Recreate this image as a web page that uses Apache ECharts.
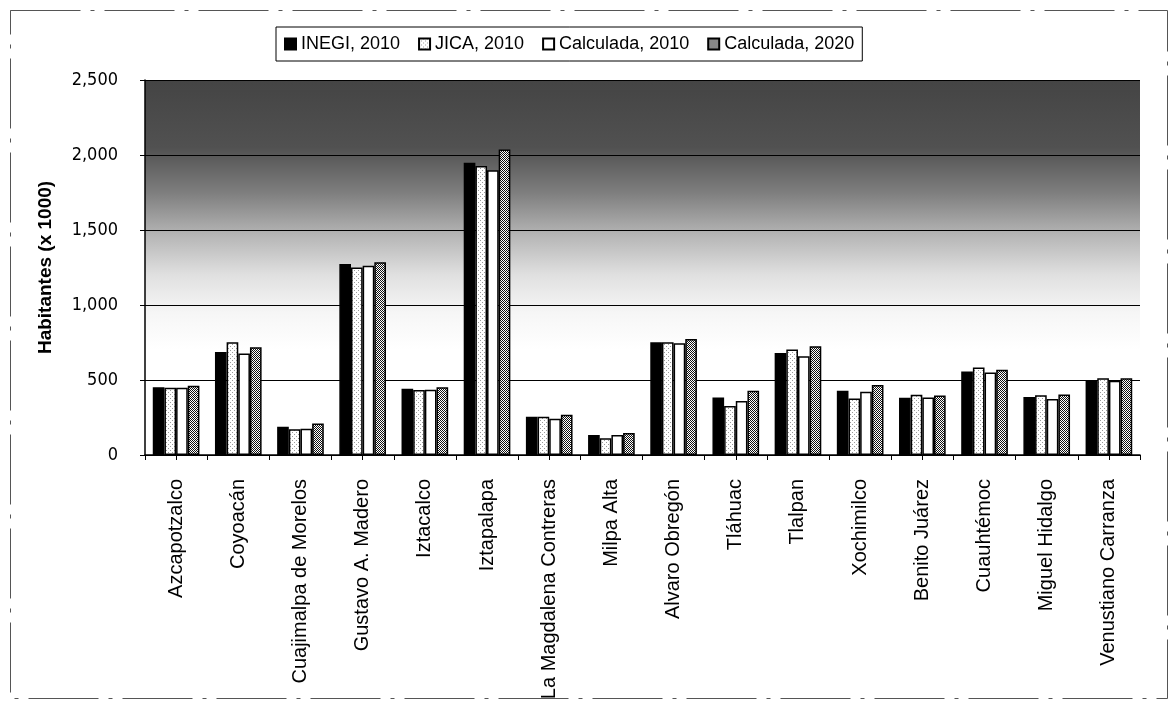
<!DOCTYPE html>
<html>
<head>
<meta charset="utf-8">
<script src="https://cdn.jsdelivr.net/npm/echarts@6/dist/echarts.min.js"></script>
<style>
  html, body { margin: 0; padding: 0; background: #fff; }
  #chart { width: 1174px; height: 705px; }
</style>
</head>
<body>
<div id="chart"></div>
<script>
// Población por alcaldía (miles de habitantes)
const categories = [
  'Azcapotzalco', 'Coyoacán', 'Cuajimalpa de Morelos', 'Gustavo A. Madero',
  'Iztacalco', 'Iztapalapa', 'La Magdalena Contreras', 'Milpa Alta',
  'Alvaro Obregón', 'Tláhuac', 'Tlalpan', 'Xochimilco', 'Benito Juárez',
  'Cuauhtémoc', 'Miguel Hidalgo', 'Venustiano Carranza'
];
const seriesNames = ['INEGI, 2010', 'JICA, 2010', 'Calculada, 2010', 'Calculada, 2020'];
const inegi2010 = [452, 686, 189, 1274, 441, 1948, 255, 134, 751, 383, 680, 428, 381, 556, 387, 500];
const jica2010  = [449, 752, 171, 1250, 434, 1926, 255, 112, 752, 327, 703, 376, 401, 583, 399, 511];
const calc2010  = [449, 676, 175, 1261, 435, 1899, 241, 134, 745, 360, 658, 421, 383, 550, 374, 495];
const calc2020  = [462, 719, 210, 1285, 452, 2036, 268, 147, 773, 428, 725, 466, 396, 568, 403, 511];
const yTicks = [0, 500, 1000, 1500, 2000, 2500];

// Stipple fills for the patterned bars
function dotPattern(size, dots, ink) {
  const c = document.createElement('canvas');
  c.width = size; c.height = size;
  const g = c.getContext('2d');
  g.fillStyle = '#fff';
  g.fillRect(0, 0, size, size);
  g.fillStyle = ink;
  dots.forEach(([x, y]) => g.fillRect(x, y, 1, 1));
  return { image: c, repeat: 'repeat' };
}
const lightDots = dotPattern(4, [[0, 0], [2, 2]], '#9a9a9a');
const denseDots = dotPattern(2, [[0, 0], [1, 1]], '#111111');

const fills = ['#000000', lightDots, '#ffffff', denseDots];
const values = [inegi2010, jica2010, calc2010, calc2020];

const chart = echarts.init(document.getElementById('chart'), null, { renderer: 'canvas' });

// Plot area shading: dark at the top fading to white near 1,000
const plotBackground = new echarts.graphic.LinearGradient(0, 0, 0, 1, [
  { offset: 0.00, color: '#444444' },
  { offset: 0.18, color: '#515151' },
  { offset: 0.30, color: '#7e7e7e' },
  { offset: 0.42, color: '#b8b8b8' },
  { offset: 0.52, color: '#e0e0e0' },
  { offset: 0.62, color: '#f6f6f6' },
  { offset: 0.72, color: '#ffffff' },
  { offset: 1.00, color: '#ffffff' }
]);

const option = {
  animation: false,
  backgroundColor: '#ffffff',
  textStyle: { fontFamily: "'Liberation Sans', Arial, sans-serif", color: '#000' },
  graphic: [{
    type: 'rect',
    left: 8, top: 8,
    shape: { width: 1157, height: 688 },
    style: { fill: 'none', stroke: '#555', lineWidth: 1, lineDash: [70, 10, 4, 10] },
    silent: true,
    z: -1
  }],
  legend: {
    data: seriesNames,
    left: 276, top: 27,
    itemWidth: 11, itemHeight: 11,
    itemGap: 18,
    padding: [8, 8],
    borderColor: '#000', borderWidth: 1,
    backgroundColor: '#fff',
    icon: 'rect',
    textStyle: { fontSize: 18, color: '#000' }
  },
  grid: {
    left: 145, right: 34, top: 80, bottom: 250,
    show: true,
    borderWidth: 0,
    backgroundColor: plotBackground
  },
  xAxis: [{
    type: 'category',
    data: categories,
    axisLine: { lineStyle: { color: '#000', width: 1.5 } },
    axisTick: { show: true, length: 5, lineStyle: { color: '#000' } },
    axisLabel: {
      rotate: 90, margin: 24, interval: 0,
      fontSize: 20, color: '#000',
      fontFamily: "'Liberation Sans', Arial, sans-serif"
    }
  }, {
    type: 'category',
    data: categories,
    position: 'bottom',
    axisLine: { show: false },
    axisTick: { show: true, alignWithLabel: true, length: 5, lineStyle: { color: '#000' } },
    axisLabel: { show: false }
  }],
  yAxis: {
    type: 'value',
    min: 0, max: 2500, interval: 500,
    name: 'Habitantes (x 1000)',
    nameLocation: 'middle',
    nameRotate: 90,
    nameGap: 90,
    nameTextStyle: { fontSize: 19, fontWeight: 'bold', color: '#000' },
    axisLine: { show: true, lineStyle: { color: '#000', width: 1.5 } },
    axisTick: { show: true, length: 5, lineStyle: { color: '#000' } },
    axisLabel: {
      margin: 27, fontSize: 18, color: '#000',
      fontFamily: "'Liberation Sans Narrow', 'DejaVu Sans Condensed', 'Liberation Sans', sans-serif",
      formatter: v => yTicks.includes(v) ? v.toLocaleString('en-US') : ''
    },
    splitLine: { show: true, lineStyle: { color: '#000', width: 1.2 } }
  },
  series: seriesNames.map((name, i) => ({
    name,
    type: 'bar',
    xAxisIndex: 0,
    data: values[i],
    barGap: '0%',
    barCategoryGap: '25%',
    itemStyle: { color: fills[i], borderColor: '#000', borderWidth: 1.5 },
    emphasis: { disabled: true }
  }))
};

chart.setOption(option);
</script>
</body>
</html>
